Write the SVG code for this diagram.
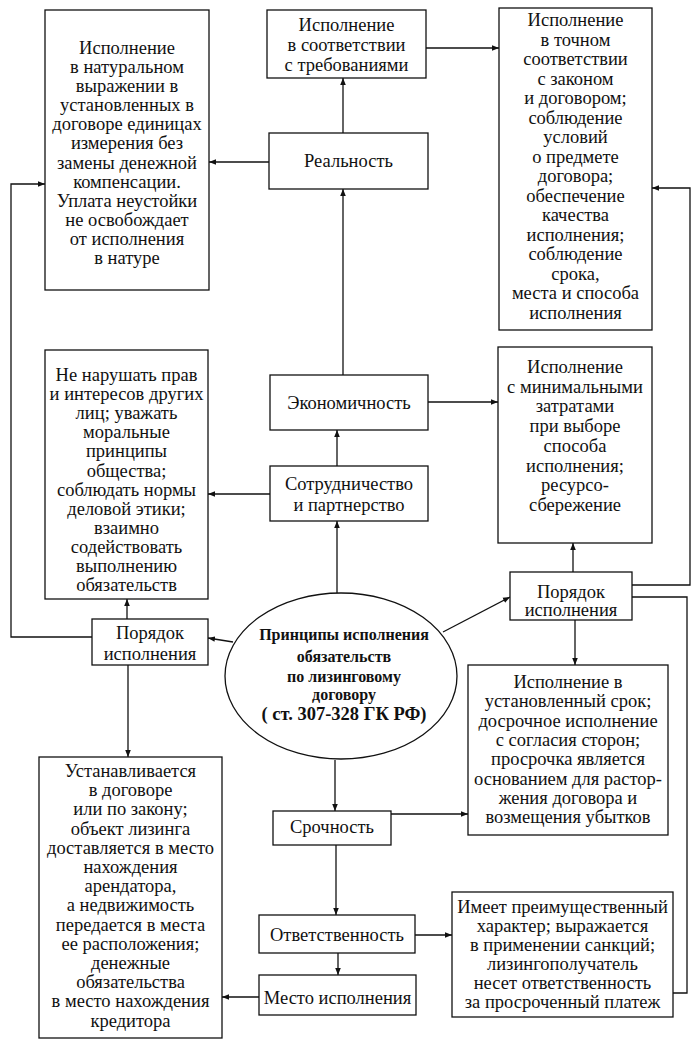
<svg xmlns="http://www.w3.org/2000/svg" width="700" height="1047" viewBox="0 0 700 1047">
<style>
.b{fill:#fff;stroke:#111;stroke-width:1.3}
.t{font-family:"Liberation Serif","Tinos","DejaVu Serif",serif;font-size:18.5px;fill:#111;text-anchor:middle}
.e{font-family:"Liberation Serif","Tinos","DejaVu Serif",serif;font-size:16px;font-weight:bold;fill:#111;text-anchor:middle}
.c{fill:none;stroke:#111;stroke-width:1.3}
</style>
<defs>
<marker id="a" viewBox="0 0 10 10" refX="10" refY="5" markerWidth="7" markerHeight="7" orient="auto" markerUnits="userSpaceOnUse">
<path d="M0,1 L10,5 L0,9 Z" fill="#111"/>
</marker>
</defs>
<rect width="700" height="1047" fill="#fff"/>
<g id="connectors">
<path class="c" d="M426,48 H499" marker-end="url(#a)"/>
<path class="c" d="M343,133 V78" marker-end="url(#a)"/>
<path class="c" d="M269,162 H209" marker-end="url(#a)"/>
<path class="c" d="M343,375 V189" marker-end="url(#a)"/>
<path class="c" d="M92,637 H11 V184 H45" marker-end="url(#a)"/>
<path class="c" d="M428,402 H498" marker-end="url(#a)"/>
<path class="c" d="M337,466 V430" marker-end="url(#a)"/>
<path class="c" d="M270,494 H208" marker-end="url(#a)"/>
<path class="c" d="M337,593 V521" marker-end="url(#a)"/>
<path class="c" d="M127,619 V599" marker-end="url(#a)"/>
<path class="c" d="M233,642 L208,638" marker-end="url(#a)"/>
<path class="c" d="M128,665 V757" marker-end="url(#a)"/>
<path class="c" d="M443,632 L510,597" marker-end="url(#a)"/>
<path class="c" d="M573,572 V543" marker-end="url(#a)"/>
<path class="c" d="M632,585 H690 V188 H652" marker-end="url(#a)"/>
<path class="c" d="M632,597 H687 V993 H666" marker-end="url(#a)"/>
<path class="c" d="M575,620 V665" marker-end="url(#a)"/>
<path class="c" d="M335,760 V811" marker-end="url(#a)"/>
<path class="c" d="M391,814 H468" marker-end="url(#a)"/>
<path class="c" d="M336,845 V915" marker-end="url(#a)"/>
<path class="c" d="M415,935 H452" marker-end="url(#a)"/>
<path class="c" d="M338,953 V975" marker-end="url(#a)"/>
<path class="c" d="M259,997 H222" marker-end="url(#a)"/>
</g>
<g id="n-natural">
<rect class="b" x="45" y="10" width="164" height="280"/>
<text class="t"><tspan x="127" y="54">Исполнение</tspan><tspan x="127" y="73">в натуральном</tspan><tspan x="127" y="92">выражении в</tspan><tspan x="127" y="111">установленных в</tspan><tspan x="127" y="130">договоре единицах</tspan><tspan x="127" y="149">измерения без</tspan><tspan x="127" y="169">замены денежной</tspan><tspan x="127" y="188">компенсации.</tspan><tspan x="127" y="207">Уплата неустойки</tspan><tspan x="127" y="226">не освобождает</tspan><tspan x="127" y="245">от исполнения</tspan><tspan x="127" y="264">в натуре</tspan></text>
</g>
<g id="n-req">
<rect class="b" x="267" y="10" width="159" height="68"/>
<text class="t"><tspan x="346.5" y="31">Исполнение</tspan><tspan x="346.5" y="51">в соответствии</tspan><tspan x="346.5" y="71">с требованиями</tspan></text>
</g>
<g id="n-exact">
<rect class="b" x="499" y="8" width="153" height="322"/>
<text class="t"><tspan x="575.5" y="26">Исполнение</tspan><tspan x="575.5" y="45.5">в точном</tspan><tspan x="575.5" y="65">соответствии</tspan><tspan x="575.5" y="84.5">с законом</tspan><tspan x="575.5" y="104">и договором;</tspan><tspan x="575.5" y="123.5">соблюдение</tspan><tspan x="575.5" y="143">условий</tspan><tspan x="575.5" y="162.5">о предмете</tspan><tspan x="575.5" y="182">договора;</tspan><tspan x="575.5" y="201.5">обеспечение</tspan><tspan x="575.5" y="221">качества</tspan><tspan x="575.5" y="240.5">исполнения;</tspan><tspan x="575.5" y="260">соблюдение</tspan><tspan x="575.5" y="279.5">срока,</tspan><tspan x="575.5" y="299">места и способа</tspan><tspan x="575.5" y="318.5">исполнения</tspan></text>
</g>
<g id="n-real">
<rect class="b" x="269" y="133" width="159" height="56"/>
<text class="t" x="348.5" y="167">Реальность</text>
</g>
<g id="n-rights">
<rect class="b" x="45" y="350" width="163" height="249"/>
<text class="t"><tspan x="126.5" y="381">Не нарушать прав</tspan><tspan x="126.5" y="400">и интересов других</tspan><tspan x="126.5" y="419">лиц; уважать</tspan><tspan x="126.5" y="438">моральные</tspan><tspan x="126.5" y="457">принципы</tspan><tspan x="126.5" y="477">общества;</tspan><tspan x="126.5" y="496">соблюдать нормы</tspan><tspan x="126.5" y="515">деловой этики;</tspan><tspan x="126.5" y="534">взаимно</tspan><tspan x="126.5" y="553">содействовать</tspan><tspan x="126.5" y="572">выполнению</tspan><tspan x="126.5" y="591">обязательств</tspan></text>
</g>
<g id="n-econ">
<rect class="b" x="270" y="375" width="158" height="55"/>
<text class="t" x="349" y="409">Экономичность</text>
</g>
<g id="n-min">
<rect class="b" x="498" y="347" width="154" height="196"/>
<text class="t"><tspan x="575" y="373">Исполнение</tspan><tspan x="575" y="392.7">с минимальными</tspan><tspan x="575" y="412.4">затратами</tspan><tspan x="575" y="432">при выборе</tspan><tspan x="575" y="451.8">способа</tspan><tspan x="575" y="471.5">исполнения;</tspan><tspan x="575" y="491.2">ресурсо-</tspan><tspan x="575" y="511">сбережение</tspan></text>
</g>
<g id="n-coop">
<rect class="b" x="270" y="466" width="158" height="55"/>
<text class="t"><tspan x="349" y="490">Сотрудничество</tspan><tspan x="349" y="511">и партнерство</tspan></text>
</g>
<g id="n-order-left">
<rect class="b" x="92" y="619" width="116" height="46"/>
<text class="t"><tspan x="150" y="639">Порядок</tspan><tspan x="150" y="660">исполнения</tspan></text>
</g>
<g id="n-center">
<ellipse class="b" cx="341" cy="676" rx="116" ry="83"/>
<text class="e"><tspan x="344" y="640">Принципы исполнения</tspan><tspan x="344" y="662">обязательств</tspan><tspan x="344" y="682">по лизинговому</tspan><tspan x="344" y="700">договору</tspan><tspan x="344" y="720" font-size="18.5">( ст. 307-328 ГК РФ)</tspan></text>
</g>
<g id="n-order-right">
<rect class="b" x="510" y="572" width="122" height="48"/>
<text class="t"><tspan x="571" y="598">Порядок</tspan><tspan x="571" y="616">исполнения</tspan></text>
</g>
<g id="n-term">
<rect class="b" x="468" y="665" width="200" height="170"/>
<text class="t"><tspan x="568" y="688">Исполнение в</tspan><tspan x="568" y="707.3">установленный срок;</tspan><tspan x="568" y="726.6">досрочное исполнение</tspan><tspan x="568" y="745.9">с согласия сторон;</tspan><tspan x="568" y="765.2">просрочка является</tspan><tspan x="568" y="784.5">основанием для растор-</tspan><tspan x="568" y="803.8">жения договора и</tspan><tspan x="568" y="823">возмещения убытков</tspan></text>
</g>
<g id="n-urgency">
<rect class="b" x="273" y="811" width="118" height="34"/>
<text class="t" x="332" y="833">Срочность</text>
</g>
<g id="n-resp">
<rect class="b" x="259" y="915" width="156" height="38"/>
<text class="t" x="337" y="941">Ответственность</text>
</g>
<g id="n-place">
<rect class="b" x="259" y="975" width="157" height="40"/>
<text class="t" x="337.5" y="1004">Место исполнения</text>
</g>
<g id="n-placetext">
<rect class="b" x="39" y="757" width="183" height="281"/>
<text class="t"><tspan x="130.5" y="777">Устанавливается</tspan><tspan x="130.5" y="796.2">в договоре</tspan><tspan x="130.5" y="815.4">или по закону;</tspan><tspan x="130.5" y="834.6">объект лизинга</tspan><tspan x="130.5" y="853.8">доставляется в место</tspan><tspan x="130.5" y="873">нахождения</tspan><tspan x="130.5" y="892.2">арендатора,</tspan><tspan x="130.5" y="911.4">а недвижимость</tspan><tspan x="130.5" y="930.6">передается в места</tspan><tspan x="130.5" y="949.8">ее расположения;</tspan><tspan x="130.5" y="969">денежные</tspan><tspan x="130.5" y="988.2">обязательства</tspan><tspan x="130.5" y="1007.4">в место нахождения</tspan><tspan x="130.5" y="1026.6">кредитора</tspan></text>
</g>
<g id="n-resptext">
<rect class="b" x="452" y="892" width="221" height="125"/>
<text class="t"><tspan x="562.5" y="913">Имеет преимущественный</tspan><tspan x="562.5" y="932">характер; выражается</tspan><tspan x="562.5" y="951">в применении санкций;</tspan><tspan x="562.5" y="970">лизингополучатель</tspan><tspan x="562.5" y="989">несет ответственность</tspan><tspan x="562.5" y="1008">за просроченный платеж</tspan></text>
</g>
</svg>
